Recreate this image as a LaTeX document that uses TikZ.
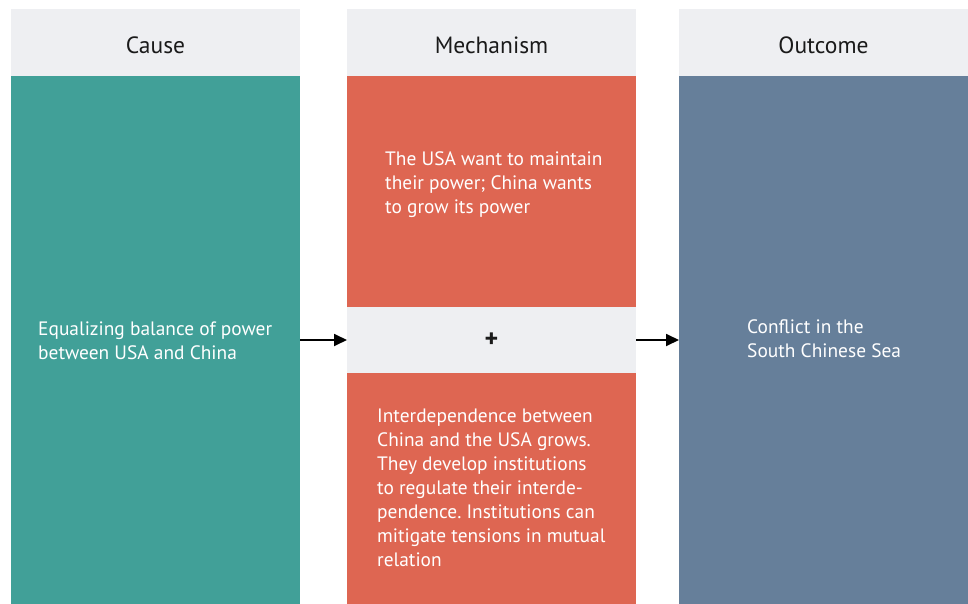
\documentclass[tikz,border=0pt]{standalone}
\usepackage{fontspec}
\setmainfont{PT Sans}
\frenchspacing
\usetikzlibrary{arrows.meta}
\definecolor{headgray}{HTML}{EEEFF2}
\definecolor{causeteal}{HTML}{41A098}
\definecolor{mechred}{HTML}{DE6652}
\definecolor{outslate}{HTML}{667F9A}
\definecolor{inkdark}{HTML}{1A1A1A}
\begin{document}
\begin{tikzpicture}[x=1pt,y=-1pt,
  panel/.style={rectangle,draw=none,inner sep=0pt,outer sep=0pt,anchor=north west},
  header/.style={panel,fill=headgray,minimum width=289pt,minimum height=67pt},
  title/.style={inner sep=0pt,text=inkdark,font=\fontsize{23.5}{26}\selectfont},
  bodytext/.style={anchor=west,inner sep=0pt,align=left,text=white,
    font=\fontsize{19.4}{24}\selectfont},
  flow/.style={line width=1.8pt,-{Triangle[length=13pt,width=12pt]}}]
\useasboundingbox (0,0) rectangle (968,604);
% column headers
\node[header] (hcause) at (11,9) {};
\node[header] (hmech) at (347,9) {};
\node[header] (hout) at (679,9) {};
\node[title] (tcausehd) at (155.5,45.5) {Cause};
\node[title] (tmechhd) at (491.5,45.5) {Mechanism};
\node[title] (touthd) at (823.5,45.5) {Outcome};
% column bodies
\node[panel,fill=causeteal,minimum width=289pt,minimum height=528pt] (cause) at (11,76) {};
\node[panel,fill=mechred,minimum width=289pt,minimum height=231pt] (mechA) at (347,76) {};
\node[panel,fill=headgray,minimum width=289pt,minimum height=66pt] (plus) at (347,307) {};
\node[panel,fill=mechred,minimum width=289pt,minimum height=231pt] (mechB) at (347,373) {};
\node[panel,fill=outslate,minimum width=289pt,minimum height=528pt] (outcome) at (679,76) {};
\node[inner sep=0pt,text=inkdark,font=\fontsize{26}{26}\selectfont\bfseries] (plussign) at (plus.center) {+};
% texts
\node[bodytext] (tcause) at (38,341) {Equalizing balance of power\\between USA and China};
\node[bodytext] (tmechA) at (385,185) {The USA want to maintain\\their power; China wants\\to grow its power};
\node[bodytext] (tmechB) at (377,488) {Interdependence between\\China and the USA grows.\\They develop institutions\\to regulate their interde-\\pendence. Institutions can\\mitigate tensions in mutual\\relation};
\node[bodytext] (tout) at (747,339) {Conflict in the\\South Chinese Sea};
% connectors
\draw[flow] (cause.east |- plus.west) -- (plus.west);
\draw[flow] (plus.east) -- (outcome.west |- plus.east);
\end{tikzpicture}
\end{document}
